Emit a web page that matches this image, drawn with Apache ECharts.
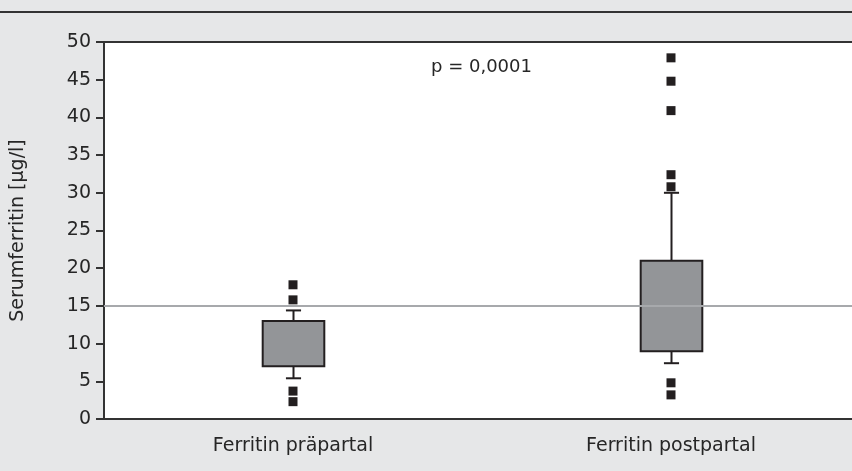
<!DOCTYPE html>
<html>
<head>
<meta charset="utf-8">
<script src="https://cdn.jsdelivr.net/npm/echarts@6/dist/echarts.min.js"></script>
<style>
html,body{margin:0;padding:0;background:#e6e7e8;}
#chart{width:852px;height:471px;}
</style>
</head>
<body>
<div id="chart"></div>
<script>
// ---- data ----
const categories = ['Ferritin präpartal', 'Ferritin postpartal'];
const whiskerLow = [5.4, 7.4];
const q1 = [7, 9];
const q3 = [13, 21];
const whiskerHigh = [14.4, 30];
const outliersPre = [17.8, 15.8, 3.7, 2.3];
const outliersPost = [47.9, 44.8, 40.9, 32.4, 30.8, 4.8, 3.2];
const refValue = 15;
const pText = 'p = 0,0001';
const yMin = 0, yMax = 50, yInterval = 5;
const yName = 'Serumferritin [μg/l]';

// ---- build ----
const FONT = 'DejaVu Sans';
const TXT = '#262626';
const boxData = categories.map((c, i) => [i, whiskerLow[i], q1[i], q3[i], whiskerHigh[i]]);
const outlierData = [];
outliersPre.forEach(v => outlierData.push([0, v]));
outliersPost.forEach(v => outlierData.push([1, v]));

function renderBox(params, api) {
  const x = api.value(0);
  const lo = api.coord([x, api.value(1)]);
  const b1 = api.coord([x, api.value(2)]);
  const b3 = api.coord([x, api.value(3)]);
  const hi = api.coord([x, api.value(4)]);
  const band = api.size([1, 0])[0];
  const bw = band * 0.163;
  const cw = band * 0.04;
  const cx = Math.round(lo[0]) + 0.5;
  const ls = {stroke: '#231f20', lineWidth: 2};
  return {
    type: 'group',
    children: [
      {type: 'line', shape: {x1: cx, y1: hi[1], x2: cx, y2: b3[1]}, style: ls},
      {type: 'line', shape: {x1: cx, y1: lo[1], x2: cx, y2: b1[1]}, style: ls},
      {type: 'line', shape: {x1: cx - cw / 2, y1: hi[1], x2: cx + cw / 2, y2: hi[1]}, style: ls},
      {type: 'line', shape: {x1: cx - cw / 2, y1: lo[1], x2: cx + cw / 2, y2: lo[1]}, style: ls},
      {type: 'rect', shape: {x: cx - bw / 2, y: b3[1], width: bw, height: b1[1] - b3[1]},
        style: {fill: '#939598', stroke: '#231f20', lineWidth: 2}}
    ]
  };
}

const chart = echarts.init(document.getElementById('chart'), null, {renderer: 'canvas'});
chart.setOption({
  animation: false,
  backgroundColor: '#e6e7e8',
  textStyle: {fontFamily: FONT},
  title: {
    text: pText, left: 431, top: 58, padding: 0,
    textStyle: {fontFamily: FONT, fontSize: 18, fontWeight: 'normal', color: TXT}
  },
  graphic: [{
    type: 'line', shape: {x1: 0, y1: 12, x2: 852, y2: 12},
    style: {stroke: '#333', lineWidth: 2}, z: 10
  }],
  grid: {
    left: 104, width: 756, top: 42, bottom: 52, show: true,
    backgroundColor: '#ffffff', borderWidth: 0,
    containLabel: false, outerBoundsMode: 'none'
  },
  xAxis: [{
    type: 'category', data: categories, position: 'bottom',
    axisLine: {lineStyle: {color: '#333', width: 2}},
    axisTick: {show: false},
    axisLabel: {margin: 18, color: TXT, fontFamily: FONT, fontSize: 19},
    splitLine: {show: false}
  }, {
    type: 'category', data: categories, position: 'top',
    axisLine: {lineStyle: {color: '#333', width: 2}},
    axisTick: {show: false}, axisLabel: {show: false}, splitLine: {show: false}
  }],
  yAxis: {
    type: 'value', min: yMin, max: yMax, interval: yInterval,
    name: yName, nameLocation: 'middle', nameRotate: 90, nameGap: 76,
    nameTextStyle: {fontFamily: FONT, fontSize: 19, color: TXT},
    axisLine: {show: true, lineStyle: {color: '#333', width: 2}},
    axisTick: {show: true, length: 8, lineStyle: {color: '#333', width: 2}},
    axisLabel: {margin: 13, color: TXT, fontFamily: FONT, fontSize: 19},
    splitLine: {show: false}
  },
  series: [
    {
      type: 'line', data: [], z: 1,
      markLine: {
        silent: true, symbol: 'none', animation: false,
        label: {show: false},
        lineStyle: {color: '#a7a9ac', width: 2, type: 'solid'},
        data: [{yAxis: refValue}]
      }
    },
    {type: 'custom', renderItem: renderBox, data: boxData, z: 3},
    {
      type: 'scatter', data: outlierData, symbol: 'rect', symbolSize: 9, z: 4,
      itemStyle: {color: '#231f20', opacity: 1}
    }
  ]
});
</script>
</body>
</html>
